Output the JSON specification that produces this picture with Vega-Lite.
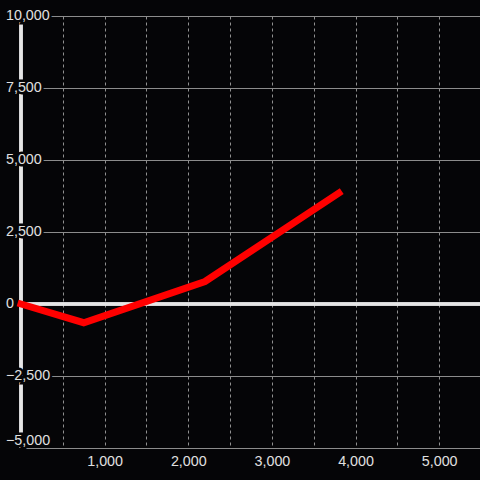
{
  "$schema": "https://vega.github.io/schema/vega-lite/v6.json",
  "autosize": "none",
  "width": 460,
  "height": 432,
  "padding": {"left": 21, "top": 16, "right": 0, "bottom": 32},
  "background": "#050507",
  "config": {"view": {"stroke": null}, "font": "Liberation Sans"},
  "datasets": {
    "series": [
      {"x": 0, "y": 0},
      {"x": 750, "y": -650},
      {"x": 2200, "y": 780},
      {"x": 3800, "y": 3850}
    ],
    "yticks": [
      {"v": 10000}, {"v": 7500}, {"v": 5000}, {"v": 2500}, {"v": 0}, {"v": -2500}, {"v": -5000}
    ]
  },
  "layer": [
    {
      "data": {"name": "series"},
      "mark": {"type": "rule", "color": "#e6e6e6", "strokeWidth": 3},
      "encoding": {"y": {"datum": 0, "type": "quantitative"}}
    },
    {
      "data": {"name": "series"},
      "mark": {"type": "rule", "color": "#e6e6e6", "strokeWidth": 3},
      "encoding": {"x": {"datum": 0, "type": "quantitative"}}
    },
    {
      "data": {"name": "yticks"},
      "transform": [{"filter": "datum.v != -5000"}],
      "mark": {"type": "text", "align": "left", "baseline": "middle", "dx": -15, "font": "Liberation Sans", "fontSize": 14.3, "fill": "#050507", "stroke": "#050507", "strokeWidth": 5},
      "encoding": {
        "x": {"datum": 0, "type": "quantitative"},
        "y": {"field": "v", "type": "quantitative"},
        "text": {"field": "v", "type": "quantitative", "format": ","}
      }
    },
    {
      "data": {"name": "yticks"},
      "transform": [{"filter": "datum.v == -5000"}],
      "mark": {"type": "text", "align": "left", "baseline": "bottom", "dx": -15, "font": "Liberation Sans", "fontSize": 14.3, "fill": "#050507", "stroke": "#050507", "strokeWidth": 5},
      "encoding": {
        "x": {"datum": 0, "type": "quantitative"},
        "y": {"field": "v", "type": "quantitative"},
        "text": {"field": "v", "type": "quantitative", "format": ","}
      }
    },
    {
      "data": {"name": "yticks"},
      "transform": [{"filter": "datum.v != -5000"}],
      "mark": {"type": "text", "align": "left", "baseline": "middle", "dx": -15, "font": "Liberation Sans", "fontSize": 14.3, "color": "#e0e0e0"},
      "encoding": {
        "x": {"datum": 0, "type": "quantitative"},
        "y": {"field": "v", "type": "quantitative"},
        "text": {"field": "v", "type": "quantitative", "format": ","}
      }
    },
    {
      "data": {"name": "yticks"},
      "transform": [{"filter": "datum.v == -5000"}],
      "mark": {"type": "text", "align": "left", "baseline": "bottom", "dx": -15, "font": "Liberation Sans", "fontSize": 14.3, "color": "#e0e0e0"},
      "encoding": {
        "x": {"datum": 0, "type": "quantitative"},
        "y": {"field": "v", "type": "quantitative"},
        "text": {"field": "v", "type": "quantitative", "format": ","}
      }
    },
    {
      "data": {"name": "series"},
      "mark": {"type": "line", "color": "#ff0000", "strokeWidth": 7, "strokeCap": "square", "strokeJoin": "miter"},
      "encoding": {
        "x": {
          "field": "x", "type": "quantitative",
          "scale": {"domain": [0, 5500], "nice": false, "zero": false},
          "axis": {
            "values": [500, 1000, 1500, 2000, 2500, 3000, 3500, 4000, 4500, 5000],
            "labelExpr": "datum.value % 1000 == 0 ? format(datum.value, ',') : ''",
            "grid": true, "gridColor": "#909090", "gridDash": [3, 3], "gridWidth": 1,
            "domain": true, "domainColor": "#8c8c8c", "domainWidth": 1,
            "ticks": false, "tickSize": 0,
            "labelColor": "#e0e0e0", "labelFont": "Liberation Sans", "labelFontSize": 14.3, "labelPadding": 6,
            "labelFlush": false, "labelOverlap": false, "title": null
          }
        },
        "y": {
          "field": "y", "type": "quantitative",
          "scale": {"domain": [-5000, 10000], "nice": false, "zero": false},
          "axis": {
            "values": [-5000, -3750, -2500, -1250, 0, 1250, 2500, 3750, 5000, 6250, 7500, 8750, 10000],
            "labels": false,
            "grid": true, "gridColor": "#8c8c8c", "gridWidth": 1,
            "domain": false, "ticks": false, "tickSize": 0,
            "title": null
          }
        }
      }
    }
  ]
}
